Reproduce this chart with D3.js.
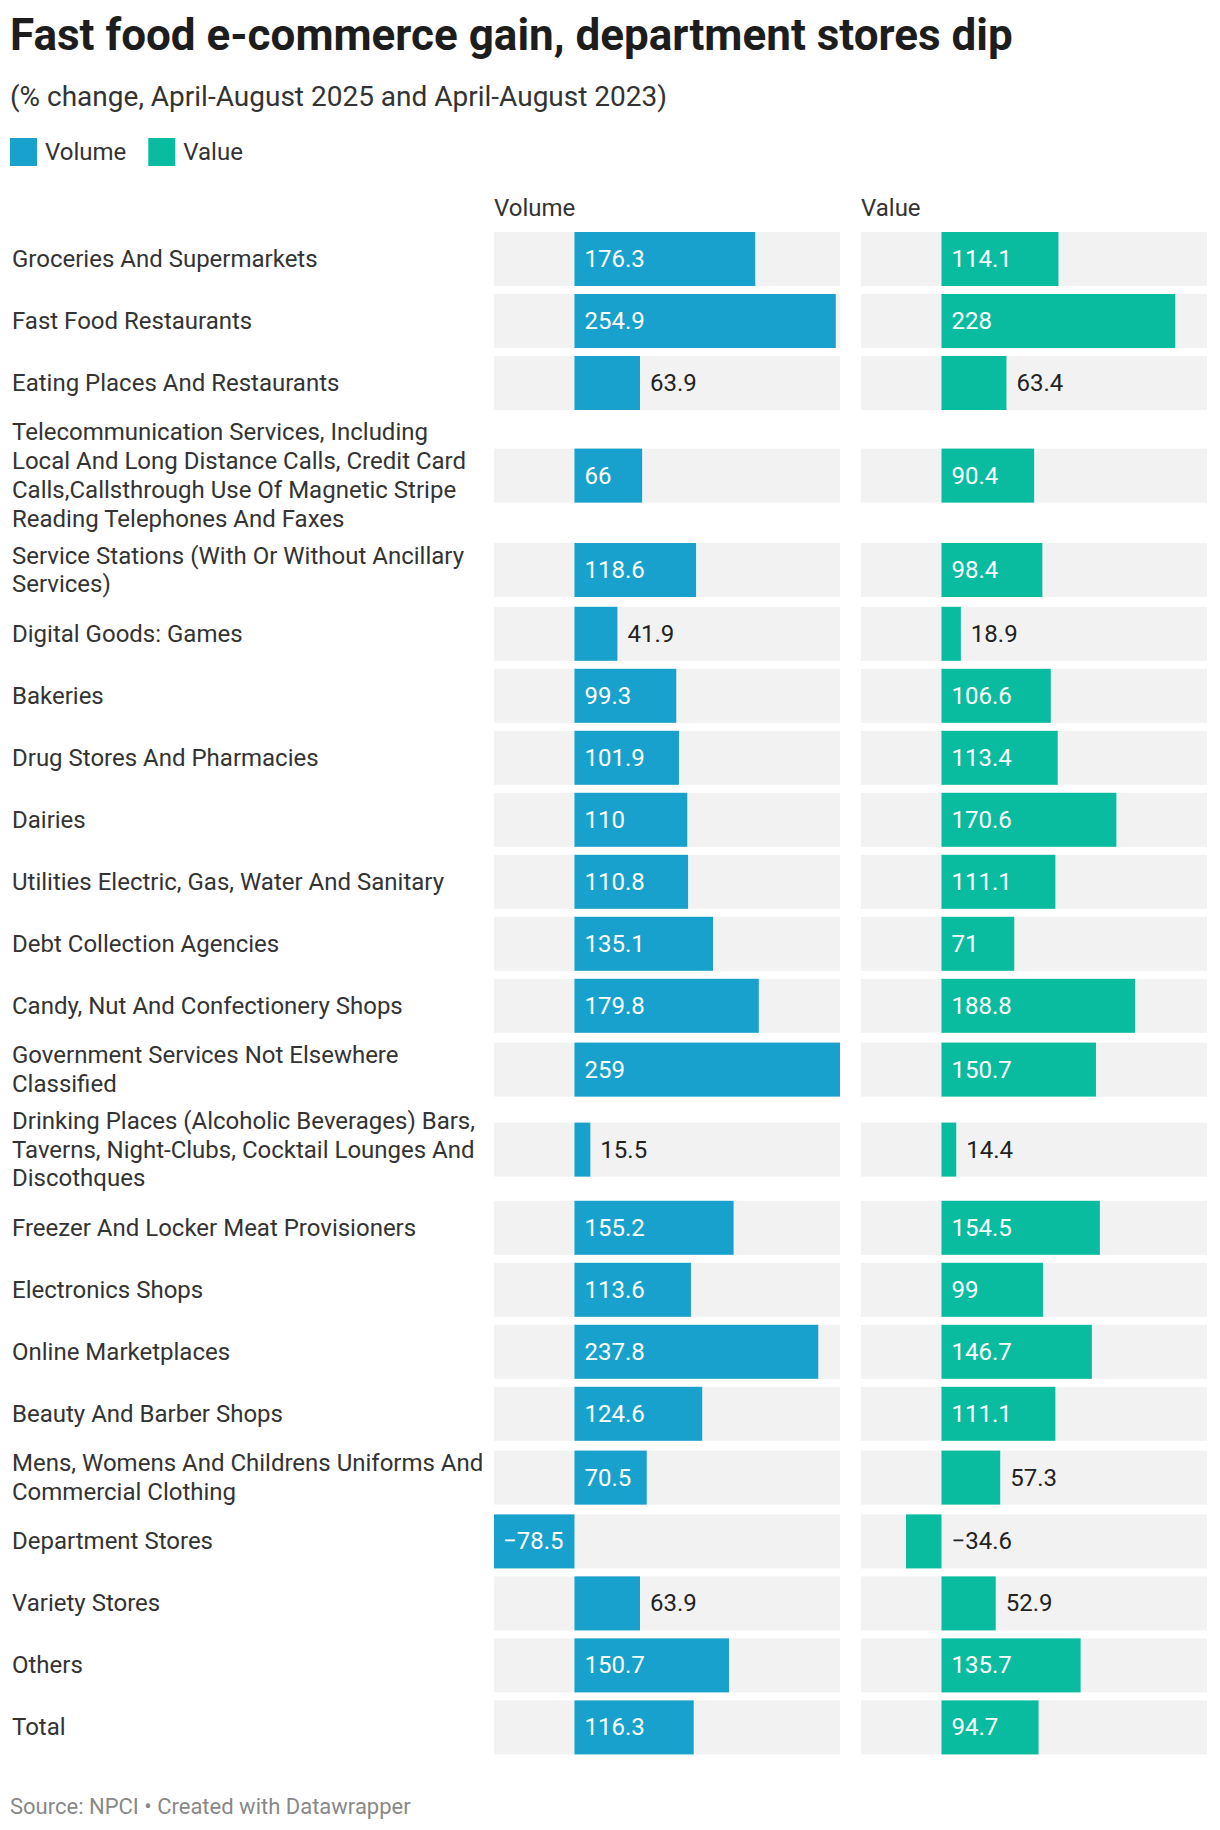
<!DOCTYPE html>
<html>
<head>
<meta charset="utf-8">
<script src="https://cdn.jsdelivr.net/npm/d3@7"></script>
<style>
  body { margin: 0; background: #fff; }
  svg { display: block; font-family: Roboto, "Noto Sans", sans-serif; }
</style>
</head>
<body>
<div id="chart"></div>
<script>
// ── Data ────────────────────────────────────────────────────────────────────
const categories = [
  "Groceries And Supermarkets",
  "Fast Food Restaurants",
  "Eating Places And Restaurants",
  "Telecommunication Services, Including Local And Long Distance Calls, Credit Card Calls,Callsthrough Use Of Magnetic Stripe Reading Telephones And Faxes",
  "Service Stations (With Or Without Ancillary Services)",
  "Digital Goods: Games",
  "Bakeries",
  "Drug Stores And Pharmacies",
  "Dairies",
  "Utilities Electric, Gas, Water And Sanitary",
  "Debt Collection Agencies",
  "Candy, Nut And Confectionery Shops",
  "Government Services Not Elsewhere Classified",
  "Drinking Places (Alcoholic Beverages) Bars, Taverns, Night-Clubs, Cocktail Lounges And Discothques",
  "Freezer And Locker Meat Provisioners",
  "Electronics Shops",
  "Online Marketplaces",
  "Beauty And Barber Shops",
  "Mens, Womens And Childrens Uniforms And Commercial Clothing",
  "Department Stores",
  "Variety Stores",
  "Others",
  "Total",
];
const volume = [176.3, 254.9, 63.9, 66, 118.6, 41.9, 99.3, 101.9, 110, 110.8, 135.1, 179.8,
                259, 15.5, 155.2, 113.6, 237.8, 124.6, 70.5, -78.5, 63.9, 150.7, 116.3];
const value  = [114.1, 228, 63.4, 90.4, 98.4, 18.9, 106.6, 113.4, 170.6, 111.1, 71, 188.8,
                150.7, 14.4, 154.5, 99, 146.7, 111.1, 57.3, -34.6, 52.9, 135.7, 94.7];
const seriesNames = ["Volume", "Value"];
const seriesColors = ["#18a1cd", "#09bc9f"];

const title = "Fast food e-commerce gain, department stores dip";
const subtitle = "(% change, April-August 2025 and April-August 2023)";
const footer = "Source: NPCI \u2022 Created with Datawrapper";

// ── Layout ──────────────────────────────────────────────────────────────────
const width = 1220, height = 1830;
const labelX = 12, labelMaxW = 473;
const panelX = [494, 861], panelW = 346;
const barH = 54, rowGap = 8, lineH = 28.8, top0 = 232;
const fs = 24, pad = 10;

const svg = d3.select("#chart").append("svg")
  .attr("width", width).attr("height", height);

// header
svg.append("text").attr("x", 10).attr("y", 50)
  .attr("font-size", 44).attr("font-weight", 700).attr("fill", "#1d1d1d")
  .text(title);
svg.append("text").attr("x", 10).attr("y", 106)
  .attr("font-size", 28).attr("fill", "#333")
  .text(subtitle);

// legend
const legend = svg.append("g").attr("transform", "translate(10,138)");
let lx = 0;
seriesNames.forEach((name, i) => {
  legend.append("rect").attr("x", lx).attr("y", 0).attr("width", 27).attr("height", 28)
    .attr("fill", seriesColors[i]);
  const t = legend.append("text").attr("x", lx + 35).attr("y", 22)
    .attr("font-size", fs).attr("fill", "#333").text(name);
  lx += 35 + t.node().getComputedTextLength() + 22;
});

// column headers
seriesNames.forEach((name, i) => {
  svg.append("text").attr("x", panelX[i]).attr("y", 216)
    .attr("font-size", fs).attr("fill", "#333").text(name);
});

// ── Label wrapping ──────────────────────────────────────────────────────────
const measure = svg.append("text").attr("font-size", fs).attr("visibility", "hidden");
function textW(s) { measure.text(s); return measure.node().getComputedTextLength(); }
function wrap(s, maxW) {
  const words = s.split(" ");
  const lines = [];
  let cur = "";
  words.forEach(w => {
    const test = cur ? cur + " " + w : w;
    if (cur && textW(test) > maxW) { lines.push(cur); cur = w; }
    else cur = test;
  });
  if (cur) lines.push(cur);
  return lines;
}

const rows = [];
let y = top0;
categories.forEach((c, i) => {
  const lines = wrap(c, labelMaxW);
  const h = Math.max(barH, lines.length * lineH);
  rows.push({ name: c, lines, y, h, cy: y + h / 2, vals: [volume[i], value[i]] });
  y += h + rowGap;
});

// ── Scale (shared by both columns) ─────────────────────────────────────────
const x = d3.scaleLinear()
  .domain([d3.min([...volume, ...value]), d3.max([...volume, ...value])])
  .range([0, panelW]);
const fmt = d3.format("~f");

// ── Rows ────────────────────────────────────────────────────────────────────
const row = svg.selectAll("g.row").data(rows).join("g").attr("class", "row");

row.append("text")
  .attr("font-size", fs).attr("fill", "#333")
  .selectAll("tspan").data(d => d.lines.map((l, k) => ({ l, k, d })))
  .join("tspan")
  .attr("x", labelX)
  .attr("y", o => o.d.cy - (o.d.lines.length - 1) / 2 * lineH + 8 + o.k * lineH)
  .text(o => o.l);

seriesNames.forEach((name, si) => {
  const g = row.append("g").attr("transform", d => `translate(${panelX[si]},${d.cy - barH / 2})`);
  g.append("rect").attr("width", panelW).attr("height", barH).attr("fill", "#f2f2f2");
  g.append("rect")
    .attr("x", d => x(Math.min(0, d.vals[si])))
    .attr("width", d => Math.abs(x(d.vals[si]) - x(0)))
    .attr("height", barH)
    .attr("fill", seriesColors[si]);
  g.append("text")
    .attr("font-size", fs)
    .attr("y", barH / 2 + 8)
    .text(d => fmt(d.vals[si]))
    .each(function (d) {
      const v = d.vals[si];
      const tw = this.getComputedTextLength();
      const bw = Math.abs(x(v) - x(0));
      // positive bars need room on both sides, negative ones only on one
      const inside = v >= 0 ? bw >= tw + 2 * pad + 2 : bw >= tw + pad;
      const sel = d3.select(this);
      if (inside) {
        sel.attr("fill", "#fff");
        if (v >= 0) sel.attr("x", x(0) + pad).attr("text-anchor", "start");
        else sel.attr("x", x(0) - pad - 1).attr("text-anchor", "end");
      } else {
        sel.attr("fill", "#222").attr("text-anchor", "start")
          .attr("x", v >= 0 ? x(v) + pad : x(0) + pad);
      }
    });
});

measure.remove();

// footer
svg.append("text").attr("x", 10).attr("y", 1814)
  .attr("font-size", 22).attr("fill", "#888")
  .text(footer);
</script>
</body>
</html>
